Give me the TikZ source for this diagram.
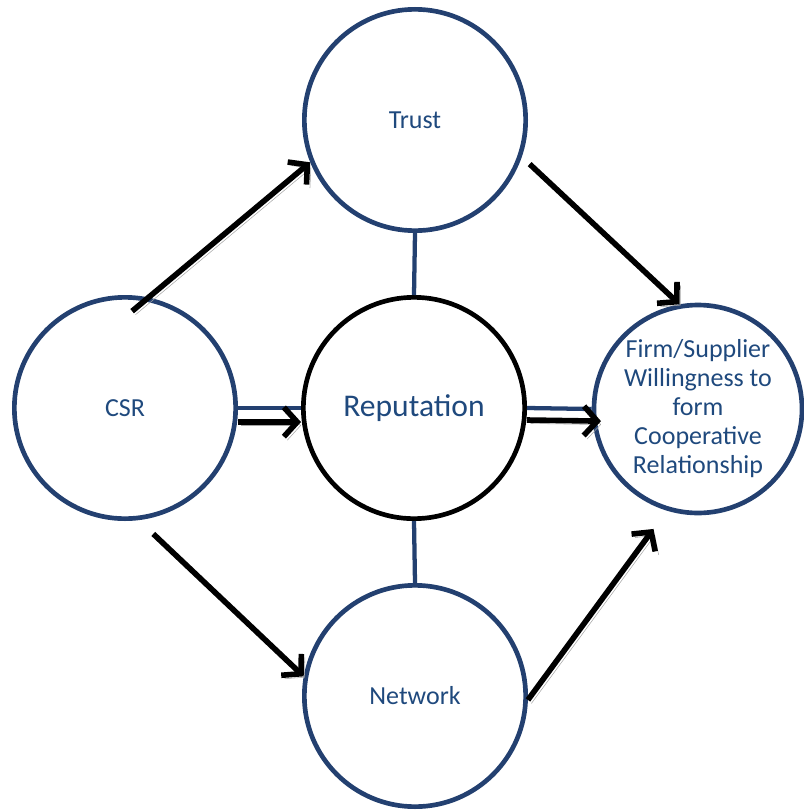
\documentclass[tikz,border=0pt]{standalone}
\usepackage{fontspec}
\setmainfont{Carlito}
\usetikzlibrary{arrows.meta}
\definecolor{ringblue}{RGB}{35,64,112}
\definecolor{textblue}{RGB}{31,73,125}
\begin{document}
\begin{tikzpicture}[x=0.75pt,y=-0.75pt,
	ring/.style={circle,draw=ringblue,line width=3.5pt,minimum size=166pt,inner sep=0pt,text=textblue,align=center,font=\fontsize{19.5}{21.75}\selectfont},
	link/.style={draw=ringblue,line width=3.2pt},
	push/.style={line width=4.2pt,-{Straight Barb[length=10pt,width=22pt]},preaction={draw=black!35,-{Straight Barb[length=10pt,width=22pt]},transform canvas={xshift=2.6pt,yshift=-2.6pt}}}]
			\useasboundingbox (0,0) rectangle (803,810);
			\node[ring] (trust) at (415,120) {Trust};
			\node[ring] (csr) at (125,408) {CSR};
			\node[ring,draw=black,font=\fontsize{23.7}{26}\selectfont] (rep) at (414,408) {Reputation};
			\node[ring,minimum size=156pt,inner sep=-6pt] (firm) at (698,409) {Firm/Supplier\\Willingness to\\form\\Cooperative\\Relationship};
			\node[ring] (net) at (415,696) {Network};
			\draw[link] (trust.south)--(rep.north);
			\draw[link] (rep.south)--(net.north);
			\draw[link] (csr.east)--(rep.west);
			\draw[link] (rep.east)--(firm.west);
			\draw[push,shorten <=-16pt] (csr.78)--(trust.202);
			\draw[push,shorten <=8pt] (trust.-19)--(firm.100);
			\draw[push,shorten <=15pt] (csr.-83)--(net.170);
			\draw[push,shorten >=17pt] (net.-2)--(firm.-107);
			\draw[push] ([yshift=-10.5pt]csr.east)--([yshift=-10.5pt]rep.west);
			\draw[push,shorten >=-7pt] ([yshift=-9pt]rep.east)--([yshift=-9pt]firm.west);
		\end{tikzpicture}
\end{document}
